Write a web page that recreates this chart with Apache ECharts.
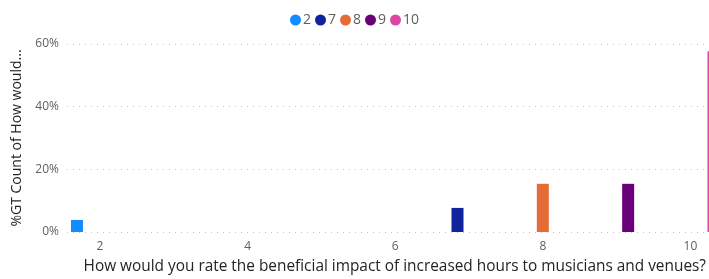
<!DOCTYPE html>
<html>
<head>
<meta charset="utf-8">
<script src="https://cdn.jsdelivr.net/npm/echarts@6/dist/echarts.min.js"></script>
<style>
	html, body { margin: 0; padding: 0; background: #fff; }
	#main { width: 709px; height: 279px; }
</style>
</head>
<body>
<div id="main"></div>
<script type="text/javascript">
	// 评分 -> 占比 (26 份回答)
	var ratings = [2, 7, 8, 9, 10];
	var shares = [0.0385, 0.0769, 0.1538, 0.1538, 0.5769];
	var colors = ['#118DFF', '#12239E', '#E66C37', '#6B007B', '#E044A7'];
	var xTicks = [2, 4, 6, 8, 10];

	var myChart = echarts.init(document.getElementById('main'));

	var series = ratings.map(function (r, i) {
		return {
			name: String(r),
			type: 'bar',
			barWidth: 12,
			barGap: '-4%',
			itemStyle: { color: colors[i] },
			data: [[r, shares[i]]]
		};
	});

	myChart.setOption({
		animation: false,
		textStyle: { fontFamily: '"Open Sans", sans-serif' },
		legend: {
			top: 8,
			left: 'center',
			icon: 'circle',
			itemWidth: 11,
			itemHeight: 11,
			itemGap: 4,
			textStyle: { color: '#605E5C', fontSize: 14, padding: [0, 0, 0, -3] },
			data: ratings.map(String)
		},
		grid: { left: 67, right: 0, top: 44, bottom: 45 },
		xAxis: {
			type: 'value',
			min: 1.553,
			max: 10.245,
			name: 'How would you rate the beneficial impact of increased hours to musicians and venues?',
			nameLocation: 'middle',
			nameGap: 27,
			nameTextStyle: { color: '#252423', fontSize: 15.4, padding: [0, 0, 0, 14] },
			axisLine: { show: false },
			axisTick: { show: false },
			splitLine: { show: false },
			axisLabel: { color: '#605E5C', fontSize: 12, margin: 9, customValues: xTicks }
		},
		yAxis: {
			type: 'value',
			min: 0,
			max: 0.6,
			interval: 0.2,
			name: '%GT Count of How would...',
			nameLocation: 'middle',
			nameRotate: 90,
			nameGap: 41,
			nameTextStyle: { color: '#252423', fontSize: 14 },
			axisLine: { show: false },
			axisTick: { show: false },
			axisLabel: {
				color: '#605E5C',
				fontSize: 12,
				margin: 8,
				formatter: function (v) { return Math.round(v * 100) + '%'; }
			},
			splitLine: { lineStyle: { color: '#C8C6C4', type: [1, 5], width: 1 } }
		},
		series: series
	});
</script>
</body>
</html>
